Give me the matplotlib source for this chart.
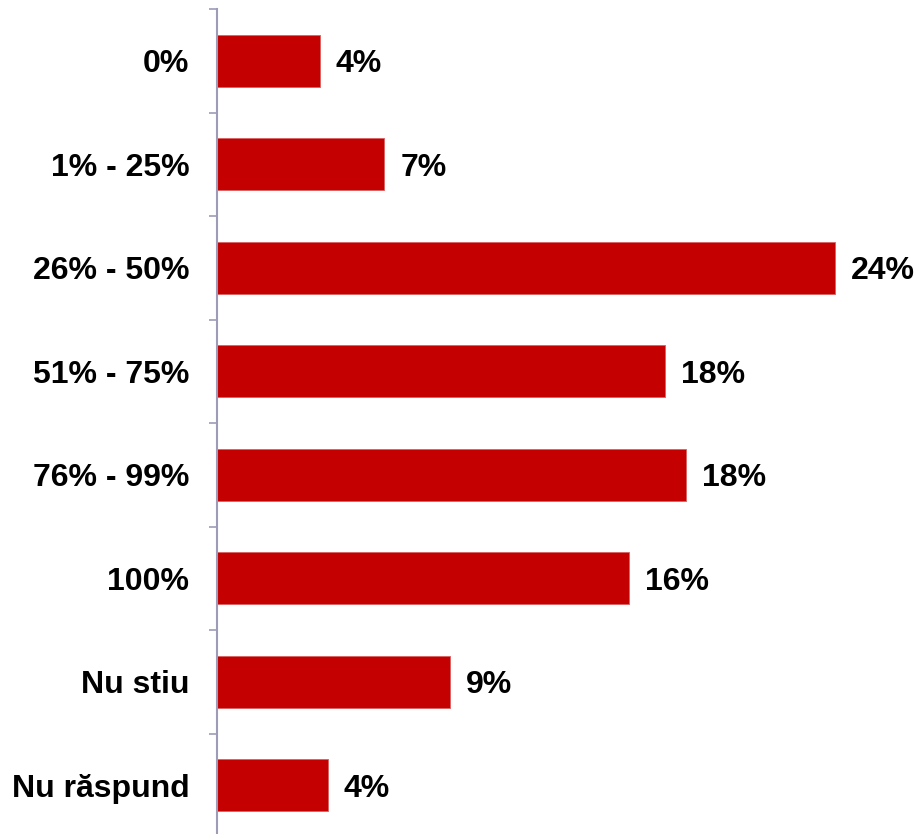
import numpy as np
import matplotlib.pyplot as plt

plt.rcParams['font.family'] = ['Liberation Sans', 'DejaVu Sans']

categories = ['0%', '1% - 25%', '26% - 50%', '51% - 75%', '76% - 99%', '100%', 'Nu stiu', 'Nu răspund']
values = [4.0, 6.5, 24.0, 17.4, 18.2, 16.0, 9.05, 4.3]
value_labels = ['4%', '7%', '24%', '18%', '18%', '16%', '9%', '4%']

fig = plt.figure(figsize=(9.17, 8.34), dpi=100)
# axes: left edge at the value axis, top at first tick, bottom a little below the figure
ax = fig.add_axes([217 / 917, -3 / 834, 700 / 917, 828 / 834])

y = np.arange(len(categories))
ax.barh(y, values, height=0.5, color='#C40000', edgecolor='#D86060', linewidth=0.6)

for yi, v, lab in zip(y, values, value_labels):
    ax.annotate(lab, (v, yi), xytext=(16, 0), textcoords='offset pixels',
                va='center_baseline', ha='left', fontsize=23, fontweight='bold')

ax.set_xlim(0, 700 / 25.75)
ax.set_ylim(len(categories) - 0.5, -0.5)

ax.set_yticks(y)
ax.set_yticklabels(categories, fontsize=23, fontweight='bold')
ax.tick_params(axis='y', which='major', length=0, pad=20)
ax.set_yticks(np.arange(-0.5, len(categories), 1), minor=True)
ax.tick_params(axis='y', which='minor', length=6, width=1.2, color='#9C9CB8')
ax.set_xticks([])

for side in ['top', 'right', 'bottom']:
    ax.spines[side].set_visible(False)
ax.spines['left'].set_color('#9C9CB8')
ax.spines['left'].set_linewidth(1.5)

fig.savefig('out.png', dpi=100)
